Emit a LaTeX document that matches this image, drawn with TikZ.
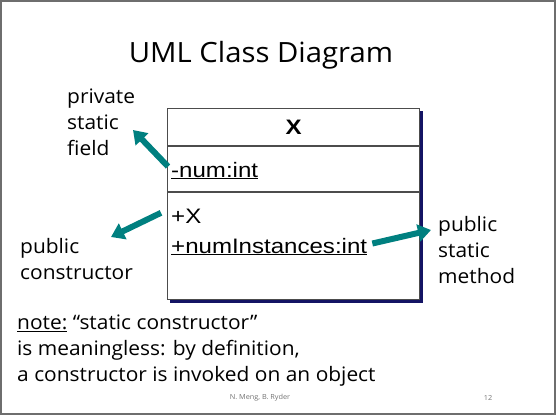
\documentclass[tikz,border=0pt]{standalone}
\usepackage{fontspec}
\setmainfont{Open Sans}
\newfontfamily\umlfont[FakeStretch=1.15]{Liberation Sans}
\newfontfamily\slidefont[FakeStretch=1.05]{Open Sans}
\usetikzlibrary{arrows.meta, positioning, calc, backgrounds}
\definecolor{arrowteal}{RGB}{0,128,128}
\definecolor{shadowblue}{RGB}{20,20,100}
\definecolor{framegray}{RGB}{110,110,110}
\tikzset{
    compart/.style = {draw=black!70, line width=1.1bp, rectangle, minimum width=252bp, fill=white, inner sep=0pt},
    member/.style = {font=\umlfont\fontsize{21}{25}\selectfont, inner sep=0pt, anchor=base west},
    annot/.style = {font=\slidefont\fontsize{20}{26}\selectfont, inner sep=0pt, align=left, anchor=north west},
    pointer/.style = {draw=arrowteal, line width=6bp, -{Triangle[length=13bp, width=17bp, fill=arrowteal]}}
}

\begin{document}
\begin{tikzpicture}[x=1bp, y=-1bp]
    \useasboundingbox (0,0) rectangle (556,415);
    \draw[framegray, line width=2bp] (1,1) rectangle (555,414);

    \node[font=\slidefont\fontsize{28}{34}\selectfont, anchor=base] (title) at (261,62) {UML Class Diagram};

    % class box
    \node[compart, minimum height=37bp, anchor=north west, font=\umlfont\bfseries\fontsize{21}{25}\selectfont] (namebox) at (167,108) {X};
    \node[compart, minimum height=45bp, below=0pt of namebox] (attrbox) {};
    \node[compart, minimum height=107bp, below=0pt of attrbox] (opbox) {};
    \begin{scope}[on background layer]
        \fill[shadowblue] ($(namebox.north west)+(3,3)$) rectangle ($(opbox.south east)+(3,3)$);
    \end{scope}

    \node[member] (num) at (171,177) {\underline{-num:int}};
    \node[member] (ctor) at (171,223) {+X};
    \node[member] (inst) at (171,253) {\underline{+numInstances:int}};

    % annotations
    \node[annot] (fieldlbl) at (67,89) {private\\static\\field};
    \node[annot] (ctorlbl) at (20,238) {public\\constructor};
    \node[annot] (methodlbl) at (438,216) {public\\static\\method};

    \coordinate (fieldtip) at (133,130);
    \coordinate (ctortip) at (111,237);
    \coordinate (methodtip) at (431,230);
    \draw[pointer] ($(num.west)+(-3,-4)$) -- (fieldtip);
    \draw[pointer] ($(ctor.west)+(-10,-3)$) -- (ctortip);
    \draw[pointer] ($(inst.east)+(5,-3)$) -- (methodtip);

    \node[annot] (note) at (17,315) {\underline{note:} “static constructor”\\is meaningless: by definition,\\a constructor is invoked on an object};

    \node[font=\slidefont\fontsize{7}{8}\selectfont, text=black!55] (author) at (260,398) {N. Meng, B. Ryder};
    \node[font=\slidefont\fontsize{7}{8}\selectfont, text=black!55] (page) at (488,398) {12};
\end{tikzpicture}
\end{document}
